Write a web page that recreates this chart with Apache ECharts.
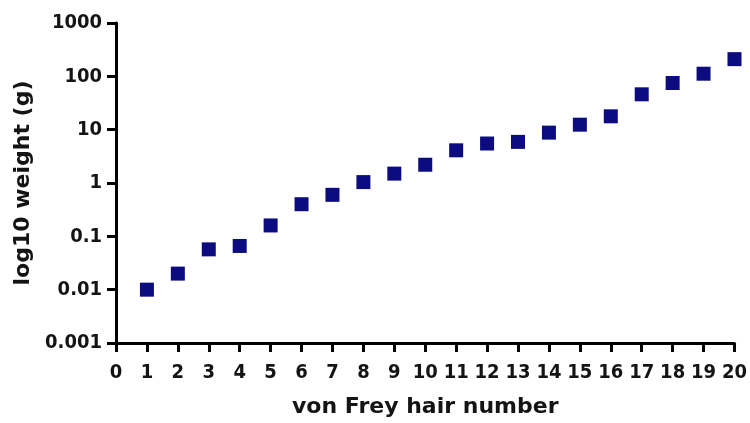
<!DOCTYPE html>
<html>
<head>
<meta charset="utf-8">
<style>
  html, body { margin: 0; padding: 0; background: #ffffff; }
  #chart { width: 750px; height: 423px; }
</style>
<script src="https://cdn.jsdelivr.net/npm/echarts@6/dist/echarts.min.js"></script>
</head>
<body>
<div id="chart"></div>
<script>
// von Frey filaments: hair number and bending force in grams
const hairNumbers = [1, 2, 3, 4, 5, 6, 7, 8, 9, 10, 11, 12, 13, 14, 15, 16, 17, 18, 19, 20];
const weightsGrams = [0.01, 0.02, 0.057, 0.066, 0.16, 0.4, 0.6, 1.04, 1.5, 2.2, 4.1, 5.5, 5.9, 8.8, 12.4, 17.8, 46, 75, 112, 210];
const yTickLabels = ['0.001', '0.01', '0.1', '1', '10', '100', '1000'];

const chart = echarts.init(document.getElementById('chart'), null, { renderer: 'canvas' });

const tickFont = {
  fontFamily: '"DejaVu Sans Condensed", "Liberation Sans", Arial, sans-serif',
  fontWeight: 'bold',
  fontSize: 20,
  color: '#141414'
};
const titleFont = {
  fontFamily: '"DejaVu Sans", sans-serif',
  fontWeight: 'bold',
  fontSize: 22,
  color: '#141414'
};
const axisStroke = { color: '#000000', width: 3 };

chart.setOption({
  backgroundColor: '#ffffff',
  animation: false,
  grid: { left: 116, right: 15, top: 23, bottom: 80, containLabel: false },
  xAxis: {
    type: 'value',
    min: 0,
    max: 20,
    interval: 1,
    name: 'von Frey hair number',
    nameLocation: 'middle',
    nameGap: 53,
    nameTextStyle: titleFont,
    axisLine: { show: true, lineStyle: axisStroke },
    axisTick: { show: true, length: 9, lineStyle: axisStroke },
    splitLine: { show: false },
    axisLabel: Object.assign({ margin: 20 }, tickFont)
  },
  yAxis: {
    type: 'log',
    logBase: 10,
    min: 0.001,
    max: 1000,
    name: 'log10 weight (g)',
    nameLocation: 'middle',
    nameGap: 82,
    nameTextStyle: titleFont,
    axisLine: { show: true, lineStyle: axisStroke },
    axisTick: { show: true, length: 9, lineStyle: axisStroke },
    splitLine: { show: false },
    axisLabel: Object.assign({
      margin: 14,
      formatter: function (value, index) { return yTickLabels[index]; }
    }, tickFont)
  },
  series: [{
    type: 'scatter',
    symbol: 'rect',
    symbolSize: 14,
    clip: false,
    itemStyle: { color: '#0c0c80', opacity: 1 },
    data: hairNumbers.map(function (n, i) { return [n, weightsGrams[i]]; })
  }]
});
</script>
</body>
</html>
